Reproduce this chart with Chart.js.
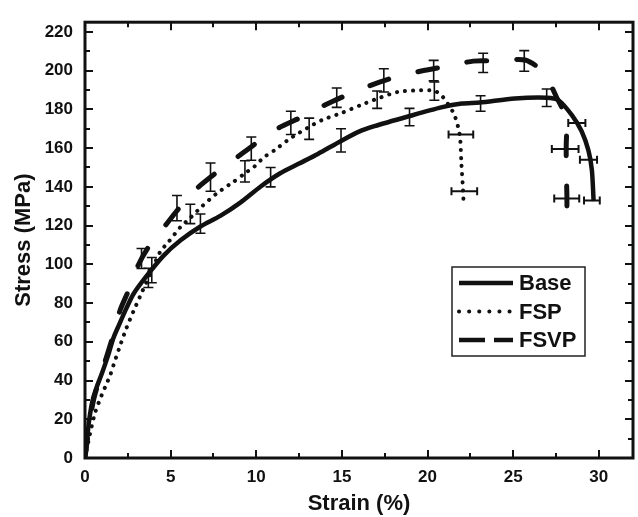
<!DOCTYPE html>
<html>
<head>
<meta charset="utf-8">
<script src="https://cdn.jsdelivr.net/npm/chart.js@4.4.0/dist/chart.umd.min.js"></script>
<style>
  body { margin: 0; background: #fff; }
  #wrap { width: 638px; height: 517px; }
</style>
</head>
<body>
<div id="wrap"><canvas id="stress"></canvas></div>
<script>
// axis ranges
const strainRange = [0, 32];
const stressRange = [0, 225];

// Base curve
const baseStrain = [0, 0.1, 0.25, 0.45, 0.7, 1.0, 1.35, 1.66, 2.0, 2.4, 2.83, 3.6, 4.59, 5.6, 6.74, 7.9, 9.09, 10.26, 11.4, 12.5, 13.6, 14.95, 16.0, 16.9, 18.86, 20.8, 22.0, 23.05, 25.1, 26.96, 27.65, 28.43, 29.0, 29.4, 29.6, 29.7];
const baseStress = [0, 8, 20, 30, 37, 44, 53, 62, 69, 77, 84.7, 94, 104.5, 112.5, 119.5, 125, 132, 140.2, 147, 152, 157, 163.7, 168.5, 171.3, 176.3, 181, 183, 183.5, 185.6, 186, 184.7, 177, 168.7, 158.7, 148.6, 132.6];

// FSP curve
const fspStrain = [0, 0.29, 0.59, 0.98, 1.27, 1.47, 1.66, 2.01, 2.4, 2.83, 3.32, 3.9, 4.4, 4.88, 5.57, 6.15, 6.84, 7.72, 8.69, 9.34, 9.87, 10.45, 11.04, 11.92, 13.0, 13.87, 14.95, 16.1, 17.1, 18.27, 19.44, 20.4, 20.9, 21.55, 21.88, 21.98, 22.08, 22.1];
const fspStress = [0, 12.4, 23.4, 32.6, 38.5, 42.7, 47.8, 57, 66.6, 75.8, 85.5, 97, 106.6, 111.6, 119.2, 124, 130, 136.8, 142.7, 147, 150.3, 155.3, 158.7, 164.6, 170.5, 174.6, 178, 182.2, 185.6, 189, 189.8, 189.6, 186.4, 177.5, 167, 152, 137.7, 133];

// FSVP curve
const fsvpStrain = [0, 0.2, 0.5, 1.0, 1.6, 2.05, 2.54, 3.12, 3.71, 4.69, 5.4, 6.55, 7.62, 8.89, 10.06, 11.33, 12.6, 14.07, 15.34, 16.8, 18.07, 19.64, 21.0, 22.67, 24.0, 25.7, 26.8, 27.55, 28.1, 28.1, 28.1, 28.14, 28.14];
const fsvpStress = [0, 14, 30, 45, 62, 76.3, 86.4, 99.8, 109, 120, 128, 139.3, 147, 155.3, 163, 170.5, 175.8, 182.5, 187.6, 192.8, 196.5, 199.8, 202, 204.9, 205, 205.5, 199, 186, 175.5, 161, 149.4, 135.5, 126.7];

// vertical error bars (stress scatter)
const baseBarStrain = [3.7, 6.74, 10.84, 14.95, 18.95, 23.1, 26.96];
const baseBarStress = [93, 121, 145, 164, 176, 183, 186];
const baseBarErr = [5, 5, 5, 6, 4.5, 4, 4.5];
const fspBarStrain = [3.9, 6.15, 9.34, 13.09, 17.06, 20.4];
const fspBarStress = [97, 126, 148, 170, 185, 189.4];
const fspBarErr = [6.5, 5, 5.5, 5.5, 4.5, 4.7];
const fsvpBarStrain = [3.3, 5.37, 7.33, 9.71, 12.02, 14.7, 17.45, 20.36, 23.25, 25.65];
const fsvpBarStress = [103, 129, 145, 159.7, 173, 186, 195, 200, 204, 205];
const fsvpBarErr = [5.2, 6.5, 7.3, 6, 6, 5, 6, 5.3, 5, 5.3];

// horizontal error bars (strain scatter at fracture)
const baseHBarStrain = [28.72, 29.4, 29.6];
const baseHBarStress = [173, 154, 133];
const baseHBarErr = [0.5, 0.5, 0.46];
const fspHBarStrain = [21.95, 22.15];
const fspHBarStress = [167, 137.7];
const fspHBarErr = [0.72, 0.75];
const fsvpHBarStrain = [28.04, 28.13];
const fsvpHBarStress = [159.5, 134];
const fsvpHBarErr = [0.78, 0.73];

const FONT = "'Liberation Sans', Arial, sans-serif";
const pts = (xs, ys) => xs.map((v, i) => ({ x: v, y: ys[i] }));

// thin error bars with caps
const errorBars = {
  id: 'errorBars',
  afterDatasetsDraw(chart) {
    const { ctx, scales: { x, y } } = chart;
    ctx.save();
    ctx.strokeStyle = '#111';
    ctx.lineWidth = 1.6;
    ctx.setLineDash([]);
    const vert = (xs, ys, es) => xs.forEach((v, i) => {
      const px = x.getPixelForValue(v);
      const p1 = y.getPixelForValue(ys[i] + es[i]);
      const p2 = y.getPixelForValue(ys[i] - es[i]);
      ctx.beginPath();
      ctx.moveTo(px, p1); ctx.lineTo(px, p2);
      ctx.moveTo(px - 5, p1); ctx.lineTo(px + 5, p1);
      ctx.moveTo(px - 5, p2); ctx.lineTo(px + 5, p2);
      ctx.stroke();
    });
    const horiz = (xs, ys, es) => xs.forEach((v, i) => {
      const py = y.getPixelForValue(ys[i]);
      const p1 = x.getPixelForValue(v - es[i]);
      const p2 = x.getPixelForValue(v + es[i]);
      ctx.beginPath();
      ctx.moveTo(p1, py); ctx.lineTo(p2, py);
      ctx.moveTo(p1, py - 4); ctx.lineTo(p1, py + 4);
      ctx.moveTo(p2, py - 4); ctx.lineTo(p2, py + 4);
      ctx.stroke();
    });
    vert(baseBarStrain, baseBarStress, baseBarErr);
    vert(fspBarStrain, fspBarStress, fspBarErr);
    vert(fsvpBarStrain, fsvpBarStress, fsvpBarErr);
    ctx.lineWidth = 2;
    horiz(baseHBarStrain, baseHBarStress, baseHBarErr);
    horiz(fspHBarStrain, fspHBarStress, fspHBarErr);
    horiz(fsvpHBarStrain, fsvpHBarStress, fsvpHBarErr);
    ctx.restore();
  }
};

// box frame with inward ticks on all four sides
const frame = {
  id: 'frame',
  afterDraw(chart) {
    const { ctx, chartArea: a, scales: { x, y } } = chart;
    ctx.save();
    ctx.strokeStyle = '#111';
    ctx.lineWidth = 2;
    ctx.setLineDash([]);
    const xv = x.ticks.map(t => t.value);
    const yv = y.ticks.map(t => t.value);
    const xs = [];
    xv.forEach(v => { xs.push([v, 8]); if (v + 2.5 < strainRange[1]) xs.push([v + 2.5, 5]); });
    const ys = [];
    yv.forEach(v => { ys.push([v, 8]); if (v + 10 < stressRange[1]) ys.push([v + 10, 5]); });
    ctx.beginPath();
    xs.forEach(([v, len]) => {
      const px = Math.round(x.getPixelForValue(v));
      ctx.moveTo(px, a.bottom); ctx.lineTo(px, a.bottom - len);
      ctx.moveTo(px, a.top); ctx.lineTo(px, a.top + len);
    });
    ys.forEach(([v, len]) => {
      const py = Math.round(y.getPixelForValue(v));
      ctx.moveTo(a.left, py); ctx.lineTo(a.left + len, py);
      ctx.moveTo(a.right, py); ctx.lineTo(a.right - len, py);
    });
    ctx.stroke();
    ctx.lineWidth = 3;
    ctx.strokeRect(a.left, a.top, a.right - a.left, a.bottom - a.top);
    ctx.restore();
  }
};

// boxed legend inside the plot
const boxLegend = {
  id: 'boxLegend',
  afterDraw(chart) {
    const ctx = chart.ctx;
    const bx = 452, by = 267, bw = 133, bh = 89;
    ctx.save();
    ctx.fillStyle = '#fff';
    ctx.fillRect(bx, by, bw, bh);
    ctx.strokeStyle = '#222';
    ctx.lineWidth = 1.5;
    ctx.setLineDash([]);
    ctx.strokeRect(bx, by, bw, bh);
    const samples = [
      { dash: [], cap: 'butt', w: 4.5 },
      { dash: [0.1, 10], cap: 'round', w: 4 },
      { dash: [26, 9], cap: 'butt', w: 4.5 }
    ];
    chart.data.datasets.forEach((ds, i) => {
      const ry = 283 + i * 28.5;
      ctx.strokeStyle = '#111';
      ctx.lineWidth = samples[i].w;
      ctx.lineCap = samples[i].cap;
      ctx.setLineDash(samples[i].dash);
      ctx.beginPath();
      ctx.moveTo(459, ry); ctx.lineTo(513, ry);
      ctx.stroke();
      ctx.setLineDash([]);
      ctx.fillStyle = '#111';
      ctx.font = 'bold 22px ' + FONT;
      ctx.textBaseline = 'middle';
      ctx.fillText(ds.label, 519, ry + 1);
    });
    ctx.restore();
  }
};

const chart = new Chart(document.getElementById('stress'), {
  type: 'line',
  data: {
    datasets: [
      {
        label: 'Base',
        data: pts(baseStrain, baseStress),
        borderColor: '#111',
        borderWidth: 4.5,
        tension: 0.25,
        pointRadius: 0
      },
      {
        label: 'FSP',
        data: pts(fspStrain, fspStress),
        borderColor: '#111',
        borderWidth: 4,
        borderDash: [0.1, 8],
        borderCapStyle: 'round',
        tension: 0.25,
        pointRadius: 0
      },
      {
        label: 'FSVP',
        data: pts(fsvpStrain, fsvpStress),
        borderColor: '#111',
        borderWidth: 5,
        borderDash: [20, 30],
        borderCapStyle: 'round',
        tension: 0.25,
        pointRadius: 0
      }
    ]
  },
  options: {
    responsive: true,
    maintainAspectRatio: false,
    animation: false,
    layout: { padding: { top: 12, right: 5, left: 0, bottom: 0 } },
    plugins: {
      legend: { display: false },
      tooltip: { enabled: false }
    },
    scales: {
      x: {
        type: 'linear',
        min: strainRange[0],
        max: strainRange[1],
        grid: { display: false, drawTicks: false },
        border: { display: false },
        ticks: {
          stepSize: 5,
          includeBounds: false,
          padding: 9,
          color: '#111',
          font: { family: FONT, size: 17, weight: 'bold' }
        },
        title: {
          display: true,
          text: 'Strain (%)',
          color: '#111',
          padding: { top: 0, bottom: 0 },
          font: { family: FONT, size: 22, weight: 'bold' }
        },
        afterFit(s) { s.height = 59; }
      },
      y: {
        type: 'linear',
        min: stressRange[0],
        max: stressRange[1],
        grid: { display: false, drawTicks: false },
        border: { display: false },
        ticks: {
          stepSize: 20,
          includeBounds: false,
          padding: 12,
          color: '#111',
          font: { family: FONT, size: 17, weight: 'bold' }
        },
        title: {
          display: true,
          text: 'Stress (MPa)',
          color: '#111',
          padding: { top: 11, bottom: 0 },
          font: { family: FONT, size: 22, weight: 'bold' }
        },
        afterFit(s) { s.width = 85; }
      }
    }
  },
  plugins: [errorBars, frame, boxLegend]
});
</script>
</body>
</html>
